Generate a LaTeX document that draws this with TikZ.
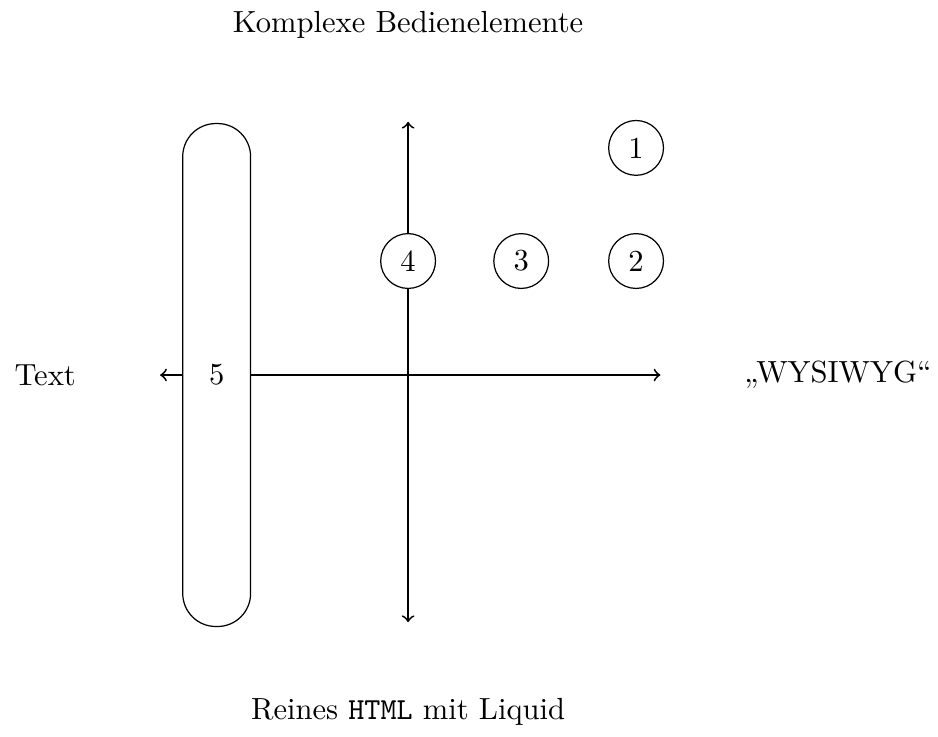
\documentclass[tikz,border=0pt]{standalone}
\usetikzlibrary{positioning}

\tikzset{
	nummer/.style={draw, circle, minimum size=0.63cm, inner sep=0pt, fill=white},
	axis/.style={semithick, <->}
}

\begin{document}
\begin{tikzpicture}
	\useasboundingbox (-4.69,-4.16) rectangle (6.09,4.31);
	
	%labels at the ends of the axes
	\node (txt) at (-4.17,0) {Text};
	\node (wys) at (4.94,0) {„WYSIWYG“};
	\node (top) at (0,4.02) {Komplexe Bedienelemente};
	\node (bot) at (0,-3.87) {Reines \texttt{HTML} mit Liquid};
	
	\coordinate (xl) at (-2.85,0);
	\coordinate (xr) at (2.90,0);
	\coordinate (yt) at (0,2.91);
	\coordinate (yb) at (0,-2.84);
	
	%axes
	\draw[axis] (xl) -- (xr);
	\draw[axis] (yb) -- (yt);
	
	%long one on the left
	\node[draw, fill=white, rounded corners=0.38cm, minimum width=0.78cm,
		minimum height=5.78cm] (n5) at (-2.2,0) {5};
	
	\foreach \i/\x/\y in {1/2.62/2.61, 2/2.62/1.31, 3/1.30/1.31, 4/0/1.31}{
		\node[nummer] (n\i) at (\x,\y) {\i};}
\end{tikzpicture}
\end{document}
